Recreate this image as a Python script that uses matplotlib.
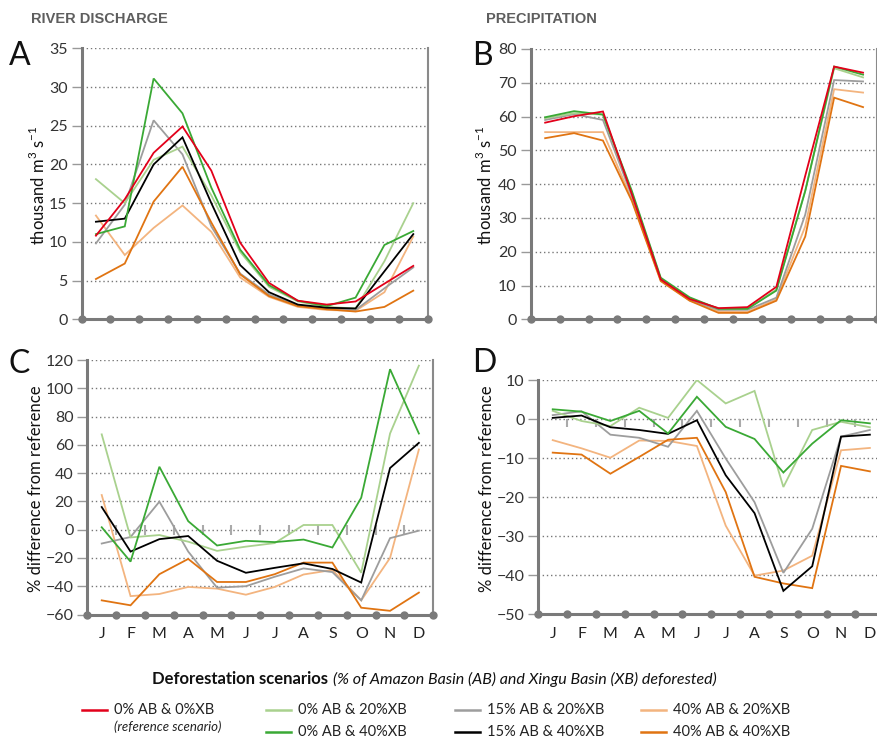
import numpy as np
import matplotlib.pyplot as plt
from matplotlib.lines import Line2D

plt.rcParams['font.family'] = ['Lato', 'DejaVu Sans']
plt.rcParams['mathtext.fontset'] = 'custom'
plt.rcParams['mathtext.rm'] = 'Lato'

# meses y escenarios
months = ['J', 'F', 'M', 'A', 'M', 'J', 'J', 'A', 'S', 'O', 'N', 'D']
scenarios = ['0% AB & 0%XB', '0% AB & 20%XB', '15% AB & 20%XB', '40% AB & 20%XB',
             '0% AB & 40%XB', '15% AB & 40%XB', '40% AB & 40%XB']
colors = {'0% AB & 0%XB': '#e2001a', '0% AB & 20%XB': '#a9d18e',
          '15% AB & 20%XB': '#9d9d9d', '40% AB & 20%XB': '#f3b47f',
          '0% AB & 40%XB': '#3aa935', '15% AB & 40%XB': '#000000',
          '40% AB & 40%XB': '#e07412'}
draw_order = ['40% AB & 20%XB', '15% AB & 20%XB', '0% AB & 20%XB', '40% AB & 40%XB',
              '15% AB & 40%XB', '0% AB & 40%XB', '0% AB & 0%XB']

# A: caudal (miles m3/s)
discharge = {
    '0% AB & 0%XB':   [10.8, 15.5, 21.5, 24.9, 19.2, 9.9, 4.7, 2.4, 1.9, 2.3, 4.6, 6.9],
    '0% AB & 20%XB':  [18.1, 15.0, 20.6, 22.3, 16.0, 8.7, 4.2, 2.3, 1.6, 1.4, 7.5, 15.0],
    '15% AB & 20%XB': [9.8, 14.8, 25.7, 21.3, 12.0, 5.9, 3.2, 1.8, 1.4, 1.2, 4.0, 6.7],
    '40% AB & 20%XB': [13.4, 8.3, 11.8, 14.7, 11.3, 5.4, 2.9, 1.6, 1.2, 1.1, 3.5, 10.7],
    '0% AB & 40%XB':  [11.0, 12.0, 31.1, 26.6, 17.0, 9.0, 4.4, 2.4, 1.7, 2.8, 9.6, 11.4],
    '15% AB & 40%XB': [12.6, 13.0, 20.0, 23.5, 15.0, 7.0, 3.5, 1.9, 1.5, 1.4, 6.2, 11.0],
    '40% AB & 40%XB': [5.2, 7.2, 15.2, 19.7, 12.5, 5.8, 3.0, 1.7, 1.3, 1.0, 1.6, 3.7],
}

# B: precipitacion
precipitation = {
    '0% AB & 0%XB':   [58.2, 60.1, 61.5, 37.0, 11.8, 6.0, 3.3, 3.6, 9.6, 42.5, 74.8, 73.0],
    '0% AB & 20%XB':  [59.5, 61.0, 60.6, 37.5, 12.0, 6.2, 3.2, 3.1, 8.8, 38.0, 74.3, 71.6],
    '15% AB & 20%XB': [59.0, 60.7, 59.0, 36.5, 11.8, 5.8, 2.8, 2.8, 6.4, 31.0, 70.8, 70.4],
    '40% AB & 20%XB': [55.4, 55.4, 55.4, 35.5, 11.5, 5.6, 2.4, 2.2, 5.9, 27.5, 68.1, 67.1],
    '0% AB & 40%XB':  [59.8, 61.6, 60.6, 38.0, 12.3, 6.5, 3.1, 3.1, 8.5, 38.0, 74.8, 72.4],
    '40% AB & 40%XB': [53.6, 55.1, 52.9, 35.0, 11.3, 5.5, 1.9, 1.9, 5.5, 24.5, 65.6, 62.8],
}

# C: % diferencia caudal
discharge_diff = {
    '0% AB & 20%XB':  [67.4, -5.5, -3.8, -8.5, -15.0, -12.0, -9.5, 3.3, 3.3, -30.5, 68.0, 116.0],
    '15% AB & 20%XB': [-9.8, -5.2, 19.8, -15.5, -41.0, -40.0, -33.3, -27.4, -30.0, -50.0, -6.0, -0.7],
    '40% AB & 20%XB': [24.5, -47.0, -45.5, -40.5, -41.7, -46.0, -40.5, -31.7, -28.5, -50.0, -20.0, 56.7],
    '0% AB & 40%XB':  [1.7, -22.6, 44.5, 6.0, -11.2, -7.9, -8.8, -7.0, -12.6, 22.6, 113.5, 68.0],
    '15% AB & 40%XB': [16.0, -15.5, -6.7, -4.5, -22.0, -30.5, -27.0, -23.8, -27.8, -37.4, 43.6, 61.4],
    '40% AB & 40%XB': [-50.0, -53.5, -31.5, -20.7, -37.0, -37.0, -31.5, -23.3, -23.3, -55.2, -57.4, -44.5],
}

# D: % diferencia precipitacion
precip_diff = {
    '0% AB & 20%XB':  [2.1, -0.5, -1.8, 2.9, 0.3, 10.0, 4.0, 7.2, -17.4, -2.8, -0.7, -2.1],
    '15% AB & 20%XB': [1.0, 2.0, -4.0, -4.8, -7.1, 2.1, -10.1, -21.3, -39.4, -28.1, -4.5, -2.8],
    '40% AB & 20%XB': [-5.4, -7.5, -9.9, -5.5, -5.6, -6.9, -27.3, -40.1, -38.8, -35.0, -8.0, -7.4],
    '0% AB & 40%XB':  [2.5, 1.9, -0.5, 2.1, -3.7, 5.7, -2.0, -5.1, -13.7, -6.3, -0.3, -1.1],
    '15% AB & 40%XB': [0.3, 0.9, -2.1, -2.8, -3.8, -0.3, -14.4, -24.1, -44.0, -37.7, -4.5, -4.0],
    '40% AB & 40%XB': [-8.6, -9.1, -14.0, -9.7, -5.3, -4.8, -18.7, -40.4, -42.1, -43.3, -12.0, -13.4],
}

W, H = 878, 739
SPINE = '#7a7a7a'
x = np.arange(12) + 0.5


def px(l, t, r, b):
    return [l / W, 1 - b / H, (r - l) / W, (b - t) / H]


def make_panel(fig, rect, data, ylim, yticks, show_months, zero_ticks=None):
    ax = fig.add_axes(rect)
    for s in draw_order:
        if s in data:
            ax.plot(x, data[s], color=colors[s], lw=1.3, solid_joinstyle='miter', zorder=3)
    ax.set_xlim(0, 12)
    ax.set_ylim(*ylim)
    ax.set_yticks(yticks)
    ax.yaxis.grid(True, linestyle=(0, (1, 2)), color='#777777', lw=1)
    ax.set_axisbelow(True)
    ax.spines['top'].set_visible(False)
    ax.spines['left'].set_color(SPINE)
    ax.spines['left'].set_linewidth(2.2)
    ax.spines['bottom'].set_color(SPINE)
    ax.spines['bottom'].set_linewidth(2.2)
    ax.spines['right'].set_color('#8a8a8a')
    ax.spines['right'].set_linewidth(1.5)
    ax.tick_params(axis='y', length=7, width=1, color='#999999', labelsize=11.5,
                   labelcolor='#333333', pad=3)
    if show_months:
        ax.set_xticks(x)
        ax.set_xticklabels(months)
        ax.tick_params(axis='x', length=0, labelsize=11.5, labelcolor='#222222', pad=9)
    else:
        ax.set_xticks([])
    # puntos sobre el eje x
    ax.plot(np.arange(13), [ylim[0]] * 13, 'o', color=SPINE, ms=5, clip_on=False, zorder=5)
    if zero_ticks is not None:
        ax.vlines(np.arange(1, 12), zero_ticks[0], zero_ticks[1], color='#aaaaaa', lw=1.5, zorder=2)
    return ax


fig = plt.figure(figsize=(W / 100, H / 100), dpi=100)

make_panel(fig, px(81.5, 48.3, 427.7, 319.3), discharge, (0, 35), range(0, 36, 5), False)
make_panel(fig, px(530.7, 49, 877.5, 319.3), precipitation, (0, 80), range(0, 81, 10), False)
make_panel(fig, px(87.3, 360, 433.3, 614.5), discharge_diff, (-60, 120), range(-60, 121, 20),
           True, zero_ticks=(-3.5, 3.5))
make_panel(fig, px(538.3, 380, 884.3, 614.3), precip_diff, (-50, 10), range(-50, 11, 10),
           True, zero_ticks=(-2, 0))

# letras de panel
for lx, ly, lt in [(9, 65, 'A'), (472, 65, 'B'), (9, 373, 'C'), (472, 372, 'D')]:
    fig.text(lx / W, 1 - ly / H, lt, fontsize=23, color='#111111', va='baseline', ha='left')

# titulos de seccion
fig.text(31 / W, 1 - 23 / H, 'RIVER DISCHARGE', fontsize=10.5, weight='bold', color='#5e5e5e',
         va='baseline', family=['Liberation Sans', 'DejaVu Sans'])
fig.text(486 / W, 1 - 23 / H, 'PRECIPITATION', fontsize=10.5, weight='bold', color='#5e5e5e',
         va='baseline', family=['Liberation Sans', 'DejaVu Sans'])

# etiquetas eje y
ylab_q = 'thousand m$^\\mathregular{3}$ s$^\\mathregular{-1}$'
fig.text(38 / W, 1 - 185 / H, ylab_q, rotation=90, ha='center', va='center', fontsize=12, color='#111111')
fig.text(485 / W, 1 - 185 / H, ylab_q, rotation=90, ha='center', va='center', fontsize=12, color='#111111')
fig.text(36 / W, 1 - 489 / H, '% difference from reference', rotation=90, ha='center', va='center',
         fontsize=12, color='#111111')
fig.text(487 / W, 1 - 489 / H, '% difference from reference', rotation=90, ha='center', va='center',
         fontsize=12, color='#111111')

# leyenda
t = fig.text(152 / W, 1 - 679 / H, 'Deforestation scenarios', fontsize=12, weight='bold',
             color='#111111', va='center')
fig.canvas.draw()
bb = t.get_window_extent()
fig.text((bb.x1 + 5) / W, 1 - 679 / H, '(% of Amazon Basin (AB) and Xingu Basin (XB) deforested)',
         fontsize=11.5, style='italic', color='#111111', va='center')

legend_pos = {
    '0% AB & 0%XB': (82, 710), '0% AB & 20%XB': (266, 710), '15% AB & 20%XB': (455, 710),
    '40% AB & 20%XB': (641, 710), '0% AB & 40%XB': (266, 732), '15% AB & 40%XB': (455, 732),
    '40% AB & 40%XB': (641, 732),
}
for s in scenarios:
    lx, ly = legend_pos[s]
    fig.add_artist(Line2D([lx / W, (lx + 25) / W], [1 - ly / H, 1 - ly / H], color=colors[s],
                          lw=1.8, transform=fig.transFigure))
    fig.text((lx + 32) / W, 1 - ly / H, s, fontsize=10.5, color='#222222', va='center')
fig.text(114 / W, 1 - 727 / H, '(reference scenario)', fontsize=9.5, style='italic',
         color='#222222', va='center')

fig.savefig('out.png', dpi=100)
